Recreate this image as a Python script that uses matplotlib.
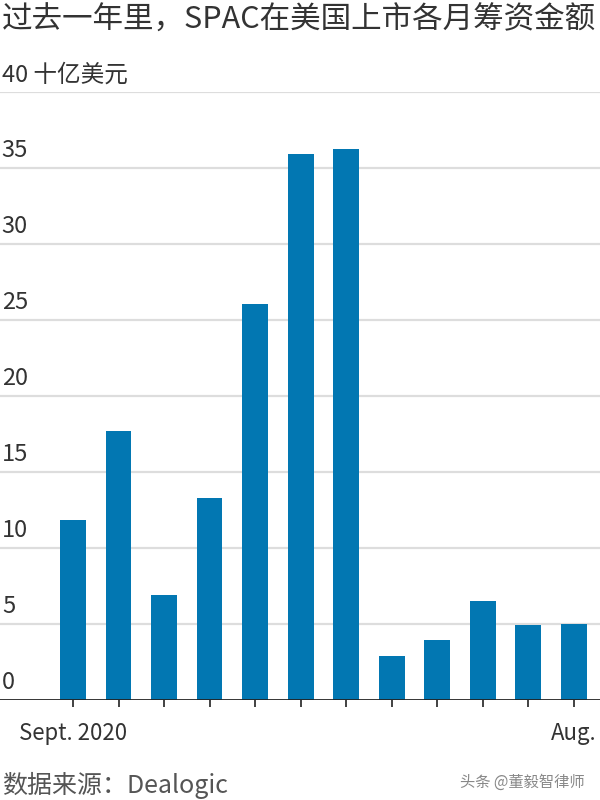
import matplotlib
matplotlib.use("Agg")
import matplotlib.pyplot as plt
import matplotlib.transforms as mtransforms

plt.rcParams['font.family'] = ['Noto Sans CJK SC', 'DejaVu Sans']

# 每月筹资金额（十亿美元）
months = ["Sept. 2020", "Oct.", "Nov.", "Dec.", "Jan.", "Feb.", "Mar.",
          "Apr.", "May", "June", "July", "Aug."]
amounts = [11.8, 17.7, 6.9, 13.3, 26.0, 35.9, 36.2, 2.9, 3.9, 6.5, 4.9, 5.0]
y_ticks = [0, 5, 10, 15, 20, 25, 30, 35, 40]
shown_months = {0: "Sept. 2020", 11: "Aug."}

title = "过去一年里，SPAC在美国上市各月筹资金额"
unit = "十亿美元"
source = "数据来源：Dealogic"
watermark = "头条 @董毅智律师"

bar_color = "#0277b2"
text_color = "#333333"

fig = plt.figure(figsize=(6, 8), dpi=100)
ax = fig.add_axes([0.0, 0.1254, 1.0, 0.76])

x = list(range(len(amounts)))
ax.bar(x, amounts, width=0.57, color=bar_color, zorder=3)

ax.set_xlim(-1.604, 11.58)
ax.set_ylim(0, 40)

# 网格线
for v in y_ticks[1:]:
    ax.axhline(v, color="#dddddd", lw=1.6, zorder=1)
ax.axhline(0, color="#222222", lw=2, zorder=4)

# y 轴标签（放在网格线上方）
trans = mtransforms.blended_transform_factory(ax.transAxes, ax.transData)
for v in y_ticks:
    lab = str(v)
    if v == y_ticks[-1]:
        lab = f"{v} {unit}"
    ax.text(0.003, v + 0.35, lab, transform=trans, ha="left", va="bottom",
            fontsize=17, color=text_color)

for s in ax.spines.values():
    s.set_visible(False)
ax.set_yticks([])
ax.set_xticks(x)
ax.set_xticklabels([shown_months.get(i, "") for i in x])
ax.tick_params(axis="x", length=5, width=1.2, color="#222222",
               labelsize=16, labelcolor=text_color, pad=11)

fig.text(0.003, 0.975, title, fontsize=22, color=text_color, ha="left", va="center")
fig.text(0.003, 0.018, source, fontsize=18, color="#555555", ha="left", va="center")
fig.text(0.975, 0.022, watermark, fontsize=11, color="#888888", ha="right", va="center")

fig.savefig("out.png", dpi=100)
